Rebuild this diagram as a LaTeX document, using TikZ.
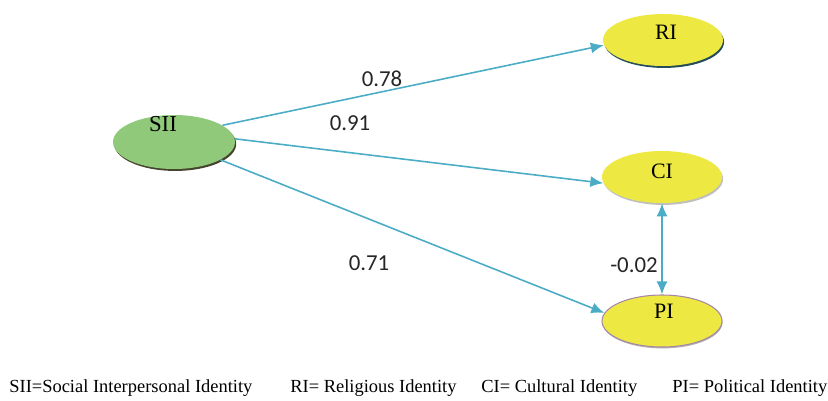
\documentclass[tikz,border=0pt]{standalone}
\usepackage{fontspec}
\setmainfont{Liberation Serif}
\newfontfamily\numfont{Carlito}
\usetikzlibrary{shapes.geometric,arrows.meta,shadows}
\definecolor{siigreen}{RGB}{143,201,121}
\definecolor{idyellow}{RGB}{238,233,66}
\definecolor{arrowblue}{RGB}{75,172,198}
\tikzset{
  idnode/.style={ellipse,minimum width=24mm,minimum height=10.4mm,inner sep=0pt},
  arr/.style={arrowblue,line width=0.9pt,-{Latex[length=2.6mm,width=2.2mm]}},
  weight/.style={font=\numfont\fontsize{13}{15}\selectfont,text=black!85},
  legend/.style={anchor=west,font=\fontsize{10.5}{12}\selectfont,inner sep=0pt}
}
\begin{document}
\begin{tikzpicture}[x=0.2mm,y=-0.2mm]

		\useasboundingbox (0,0) rectangle (828,400);

		\node[idnode,fill=siigreen,minimum width=24.4mm,minimum height=10.8mm,
		  drop shadow={shadow xshift=0.7pt,shadow yshift=-1.1pt,fill=black!65!olive,opacity=1},
		  label={[font=\fontsize{13}{15}\selectfont,shift={(-2.2mm,3.6mm)}]center:SII}] (SII) at (174,142) {};
		\node[idnode,fill=idyellow,
		  drop shadow={shadow xshift=0.6pt,shadow yshift=-1.1pt,fill=black!55!arrowblue,opacity=1},
		  label={[font=\fontsize{12.5}{15}\selectfont,shift={(0.6mm,1.6mm)}]center:RI}] (RI) at (663,40) {};
		\node[idnode,fill=idyellow,
		  drop shadow={shadow xshift=0.6pt,shadow yshift=-1.1pt,fill=black!25,opacity=1},
		  label={[font=\fontsize{12.5}{15}\selectfont,shift={(0mm,1.2mm)}]center:CI}] (CI) at (662,177) {};
		\node[idnode,fill=idyellow,draw=violet!35!gray!70,line width=0.6pt,
		  drop shadow={shadow xshift=0.3pt,shadow yshift=-0.8pt,fill=black!30,opacity=1},
		  label={[font=\fontsize{12.5}{15}\selectfont,shift={(0.4mm,2mm)}]center:PI}] (PI) at (662,321) {};

		\foreach \source/\dest in {SII.19/RI.185, SII.3/CI.186, SII.-21/PI.172}
		\draw[arr] (\source) -- (\dest);
		\draw[arr,{Latex[length=2.6mm,width=2.2mm]}-{Latex[length=2.6mm,width=2.2mm]}] (CI.south) -- (PI.north);

		\node[weight] (w78) at (382,79) {0.78};
		\node[weight] (w91) at (350,123) {0.91};
		\node[weight] (w71) at (369,263) {0.71};
		\node[weight] (w02) at (634,265) {-0.02};

		\node[legend] (lSII) at (9,388) {SII=Social Interpersonal Identity};
		\node[legend] (lRI) at (290,388) {RI= Religious Identity};
		\node[legend] (lCI) at (481,388) {CI= Cultural Identity};
		\node[legend] (lPI) at (672,388) {PI= Political Identity};

	\end{tikzpicture}
\end{document}
